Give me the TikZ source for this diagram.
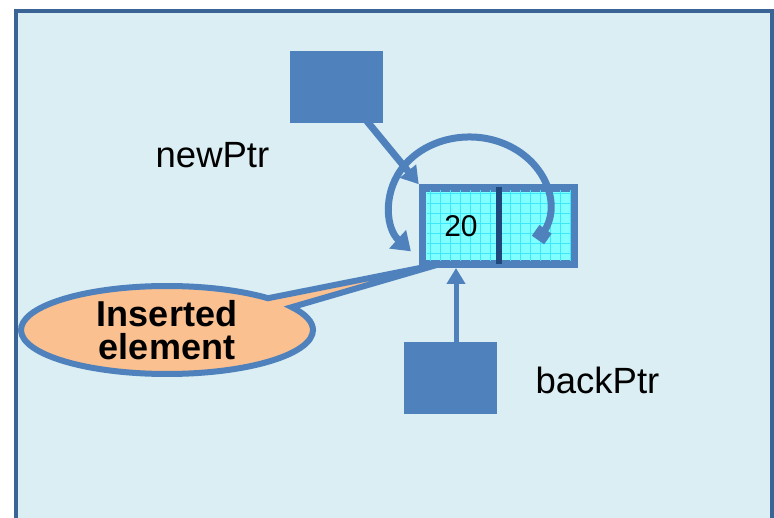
\documentclass[tikz,border=0pt]{standalone}
\usepackage{fontspec}
\setmainfont{Liberation Sans}
\usetikzlibrary{arrows.meta,shapes.callouts,shapes.geometric}
\definecolor{bgblue}{HTML}{DAEEF3}
\definecolor{framec}{HTML}{3A6496}
\definecolor{midblue}{HTML}{4F81BD}
\definecolor{darkblue}{HTML}{1F497D}
\definecolor{cellfill}{HTML}{7FFFFF}
\definecolor{gridc}{HTML}{3FE8F8}
\definecolor{peach}{HTML}{FAC090}
\tikzset{
  ptrbox/.style={fill=midblue,draw=none,inner sep=0pt,minimum width=93pt,minimum height=72pt},
  lbl/.style={font=\fontsize{36.5}{40}\selectfont,inner sep=0pt},
  ptrline/.style={draw=midblue,line width=7pt},
}
\begin{document}
\begin{tikzpicture}[x=1pt,y=-1pt]
\useasboundingbox (0,0) rectangle (774,518);
\begin{scope}
\clip (0,0) rectangle (774,518);
\draw[fill=bgblue,draw=framec,line width=4.5pt] (16,11) rectangle (772,540);
\end{scope}
% pointer squares
\node[ptrbox] (newsq) at (336.5,87) {};
\node[ptrbox] (backsq) at (450.5,378) {};
\node[lbl] (newlbl) at (212.5,155) {newPtr};
\node[lbl] (backlbl) at (597.5,380) {backPtr};
% list cell
\node[draw=midblue,line width=7.5pt,fill=cellfill,inner sep=0pt,minimum width=152pt,minimum height=76pt] (cell) at (498.5,226) {};
\begin{scope}
\clip (427,191) rectangle (571,261);
\foreach \gx in {430,440,...,570} \draw[gridc,line width=0.7pt] (\gx,188) -- (\gx,264);
\foreach \gy in {193,203,...,263} \draw[gridc,line width=0.7pt] (424,\gy) -- (575,\gy);
\end{scope}
\draw[darkblue,line width=6pt] (499,187) -- (499,264);
\node[font=\fontsize{30}{32}\selectfont,inner sep=0pt] (val) at (461,226) {20};
% newPtr arrow
\coordinate (nstart) at (366,120);
\draw[ptrline,-{Triangle[length=17pt,width=20pt]}] (nstart) -- (cell.north west);
% self loop arc
\coordinate (loopstart) at (538,240);
\draw[draw=midblue,line width=7pt,{Square[length=13pt,width=15pt]}-{Triangle[length=18pt,width=24pt]}] (loopstart) arc[start angle=-31,end angle=223,x radius=80pt,y radius=68pt];
% backPtr arrow
\coordinate (bstart) at (456,342);
\coordinate (bend) at (456,268);
\draw[draw=midblue,line width=5pt,-{Triangle[length=16pt,width=18pt]}] (bstart) -- (bend);
% callout
\node[ellipse callout,draw=midblue,line width=6pt,fill=peach,minimum width=292pt,minimum height=88pt,inner sep=0pt,
  callout absolute pointer={(440,264)},font=\bfseries\fontsize{36}{33}\selectfont,align=center] (callout) at (167,330) {Inserted\\element};
\end{tikzpicture}
\end{document}
